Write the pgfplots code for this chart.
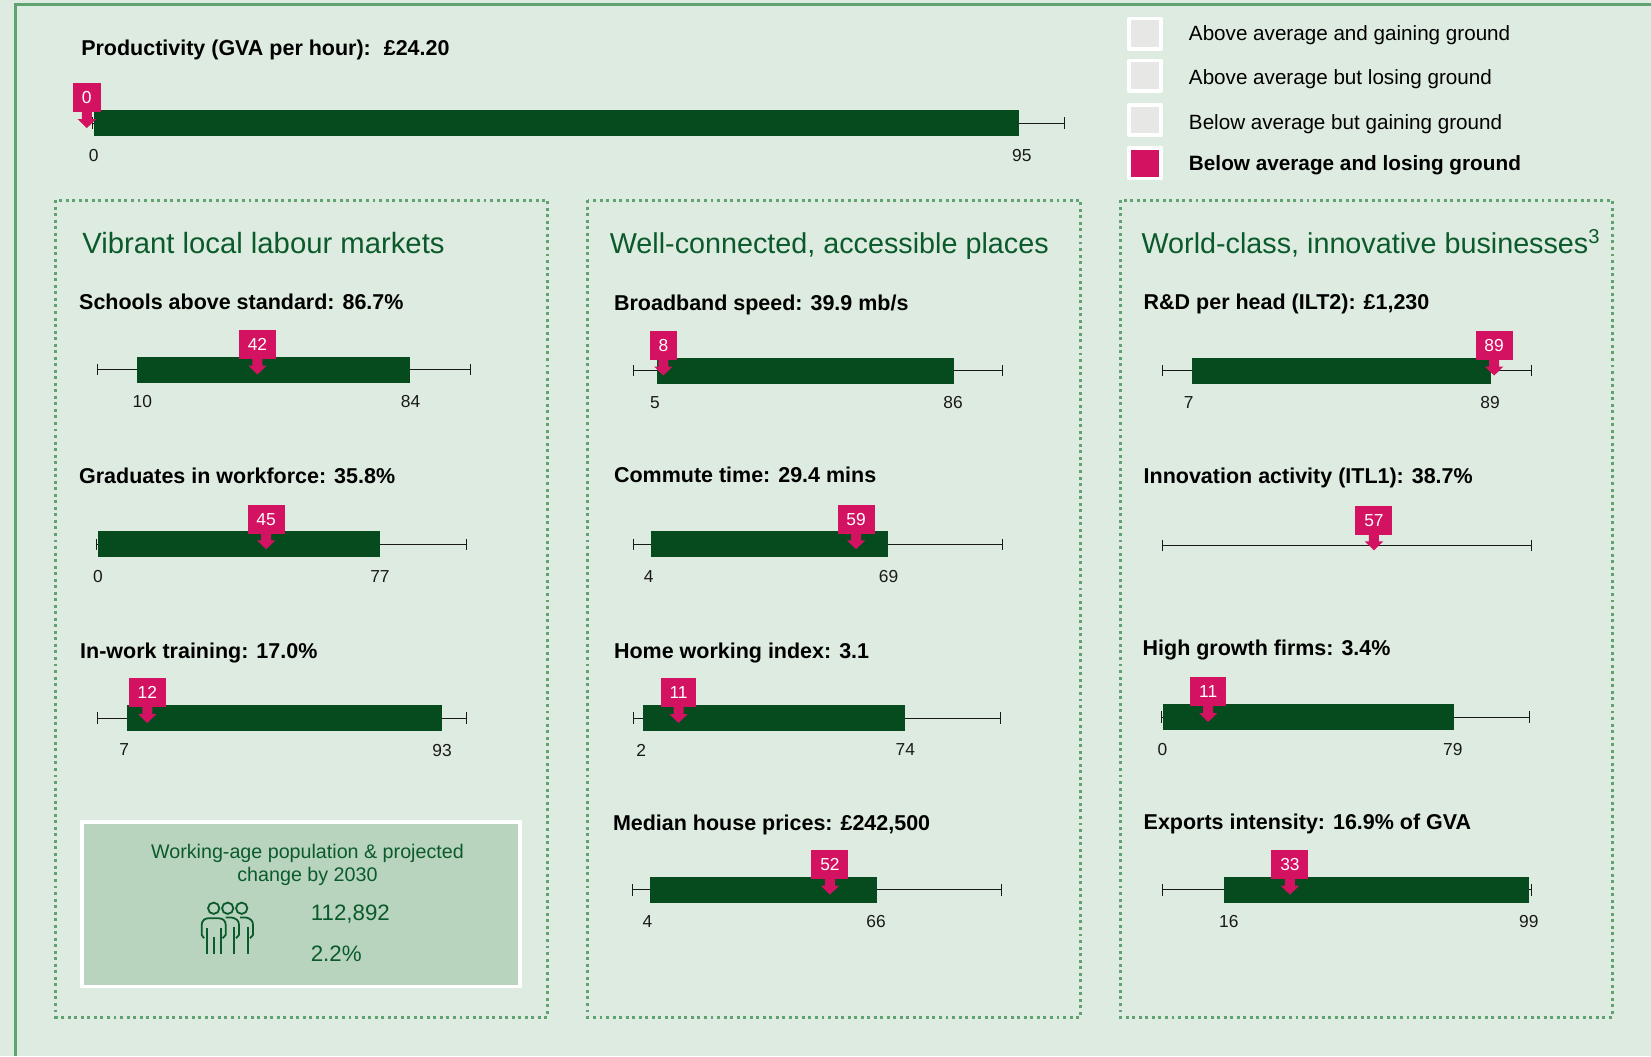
\documentclass[border=0pt]{standalone}
\usepackage{pgfplots}
\pgfplotsset{compat=1.18}
\usepackage{fontspec}
\setmainfont{Liberation Sans}
\definecolor{bgc}{HTML}{DEEBE0}
\definecolor{framec}{HTML}{5FA372}
\definecolor{barc}{HTML}{054B1E}
\definecolor{greenc}{HTML}{0B5A2C}
\definecolor{pinkc}{HTML}{D31261}
\definecolor{popc}{HTML}{B8D4BE}
\definecolor{legc}{HTML}{E7E7E5}

\pgfdeclareplotmark{pin}{%
  \pgfpathmoveto{\pgfpoint{-4.75pt}{10.5pt}}
  \pgfpathlineto{\pgfpoint{4.75pt}{10.5pt}}
  \pgfpathlineto{\pgfpoint{4.75pt}{3.8pt}}
  \pgfpathlineto{\pgfpoint{8.7pt}{3.8pt}}
  \pgfpathlineto{\pgfpoint{0pt}{-4.7pt}}
  \pgfpathlineto{\pgfpoint{-8.7pt}{3.8pt}}
  \pgfpathlineto{\pgfpoint{-4.75pt}{3.8pt}}
  \pgfpathclose
  \pgfusepathqfill}

\pgfplotsset{
  strip/.style={
    scale only axis, width=#1, height=24.7pt,
    anchor=west, xmin=0, xmax=100, ymin=-1, ymax=1, clip=false,
    axis x line=bottom, axis y line=none,
    x axis line style={draw=none,-},
    major tick length=0pt, tick style={draw=none},
    xticklabel style={font=\fontsize{16.5}{18}\selectfont, anchor=north, yshift=-12pt, inner sep=0pt, text=black!90},
  },
  pinplot/.style={
    color=pinkc, only marks, mark=pin,
    point meta=explicit symbolic,
    nodes near coords,
    nodes near coords align={anchor=south},
    every node near coord/.append style={
      anchor=south, yshift=10pt, fill=pinkc, text=white,
      inner xsep=8.4pt, inner ysep=0pt, minimum height=27.5pt,
      font=\fontsize{16.5}{18}\selectfont},
  },
}

% x0 x1 y bar-low tick-low label-low bar-high tick-high label-high, then marker x and label
\def\strip#1#2#3#4/#5/#6;#7/#8/#9;{\stripb{#1}{#2}{#3}{#4}{#5}{#6}{#7}{#8}{#9}}
\newcommand{\stripb}[9]{%
  \def\argi{#1}\def\argii{#2}\def\argiii{#3}\def\argiv{#4}\def\argv{#5}%
  \def\argvi{#6}\def\argvii{#7}\def\argviii{#8}\def\argix{#9}\stripc}
\newcommand{\stripc}[2]{%
  \edef\next{\noexpand\begin{axis}[strip={\the\dimexpr \argii pt-\argi pt\relax}, at={(\argi pt,{(1003-\argiii)*1pt})},
      xtick={\argv,\argviii}, xticklabels={\argvi,\argix}]}\next
    \addplot[black!90, line width=0.9pt, mark=|, mark size=5.5pt] coordinates {(0,0) (100,0)};
    \edef\next{\noexpand\addplot[fill=barc, draw=none] coordinates {(\argiv,-1) (\argvii,-1) (\argvii,1) (\argiv,1)} --cycle;}\next
    \addplot[pinplot] coordinates {(#1,0) [#2]};
  \end{axis}}
% no bar, no bar labels
\newcommand{\stripnobar}[5]{%
  \begin{axis}[strip={\the\dimexpr #2pt-#1pt\relax}, at={(#1pt,{(1003-#3)*1pt})},
      xtick=\empty]
    \addplot[black!90, line width=0.9pt, mark=|, mark size=5.5pt] coordinates {(0,0) (100,0)};
    \addplot[pinplot] coordinates {(#4,0) [#5]};
  \end{axis}}

\newcommand{\lab}[3]{\node[anchor=mid west, inner sep=0pt, text=black] at (#1,1003-#2-5) {\fontsize{20.4}{24}\selectfont\bfseries #3};}
\newcommand{\head}[4][27.3]{\node[anchor=mid west, inner sep=0pt, text=greenc] at (#2,1003-#3-7) {\fontsize{#1}{32}\selectfont #4};}
\newcommand{\leg}[2]{%
  \draw[white, line width=3.5pt, fill=#2, line join=round] (1072.5,1003-#1+14.5) rectangle (1102.5,1003-#1-14.5);}

\begin{document}
\begin{tikzpicture}[x=1pt,y=1pt]
  \path[use as bounding box, fill=bgc] (0,0) rectangle (1568,1003);
  % outer frame, open at right and bottom
  \draw[framec, line width=2.8pt] (14.5,0) -- (14.5,999) -- (1568,999);
  % three dotted panels
  \foreach \a/\b in {53/520, 558/1026, 1064/1531}
    \draw[framec, line width=2.8pt, dash pattern=on 2.8pt off 3.4pt] (\a,1003-190) rectangle (\b,1003-966);

  % legend
  \leg{32}{legc}
  \leg{72}{legc}
  \leg{114}{legc}
  \leg{155}{pinkc}
  \foreach \yy/\tt in {36/Above average and gaining ground, 78/Above average but losing ground, 120/Below average but gaining ground}
    \node[anchor=mid west, inner sep=0pt, text=black] at (1129,1003-\yy) {\fontsize{19.6}{24}\selectfont \tt};
  \node[anchor=mid west, inner sep=0pt, text=black] at (1129,1003-159.5) {\fontsize{19.7}{24}\selectfont\bfseries Below average and losing ground};

  % text
  \lab{77}{45}{Productivity (GVA per hour):\ \ \hspace{1pt}£24.20}
  \head[27.8]{78}{231}{Vibrant local labour markets}
  \head{579}{231}{Well-connected, accessible places}
  \head{1084}{231}{World-class, innovative businesses\textsuperscript{3}}
  \lab{75}{286}{Schools above standard: 86.7\%}
  \lab{75}{452}{Graduates in workforce: 35.8\%}
  \lab{76}{618}{In-work training: 17.0\%}
  \lab{583}{287}{Broadband speed: 39.9 mb/s}
  \lab{583}{451}{Commute time: 29.4 mins}
  \lab{583}{618}{Home working index: 3.1}
  \lab{582}{781}{Median house prices: £242,500}
  \lab{1086}{286}{R\&D per head (ILT2): £1,230}
  \lab{1086}{452}{Innovation activity (ITL1): 38.7\%}
  \lab{1085}{615}{High growth firms: 3.4\%}
  \lab{1086}{780}{Exports intensity: 16.9\% of GVA}

  % population box
  \draw[white, line width=3.6pt, fill=popc] (78,1003-781) rectangle (494,1003-937);
  \node[align=center, inner sep=0pt, text=greenc, font=\fontsize{18.7}{22}\selectfont] at (292,1003-821.5)
    {Working-age population \& projected\\ change by 2030};
  \node[anchor=mid west, inner sep=0pt, text=greenc] at (295,1003-872) {\fontsize{21.2}{26}\selectfont 112,892};
  \node[anchor=mid west, inner sep=0pt, text=greenc] at (295,1003-910.5) {\fontsize{21.2}{26}\selectfont 2.2\%};
  % people icon
  \begin{scope}[shift={(47.5,252.8)}, x=0.3166pt, y=-0.3166pt, greenc, line width=1.7pt, line cap=butt]
    \foreach \hx in {491,533,575} \draw (\hx,355) circle (17);
    \draw (462,445) -- (455,435) -- (455,405) .. controls (455,392) and (465,385) .. (475,385) -- (505,385) .. controls (518,385) and (527,392) .. (527,405) -- (527,435) -- (518,445);
    \draw (527,383) -- (545,383) .. controls (558,385) and (567,392) .. (567,405) -- (567,435) -- (558,445);
    \draw (570,383) -- (588,383) .. controls (600,385) and (609,392) .. (609,405) -- (609,435) -- (600,445);
    \draw (470,415) -- (470,493) (491,440) -- (491,493) (513,415) -- (513,493) (551,410) -- (551,493) (593,410) -- (593,493);
  \end{scope}

  % strips: whisker ends, y, bar/tick/label low and high, marker position, marker label
  \strip{88}{1011}{117}0.1/0.1/0;95.3/95.6/95;{-0.6}{0}
  \strip{93}{447}{351}10.5/11.9/10;83.6/83.9/84;{42.8}{42}
  \strip{92}{443}{517}0.3/0.3/0;76.6/76.6/77;{45.8}{45}
  \strip{93}{443}{682}8/7.1/7;93.4/93.4/93;{13.4}{12}
  \strip{602}{952}{352}6.3/5.7/5;86.9/86.6/86;{8}{8}
  \strip{602}{952}{517}4.6/4/4;68.9/69.1/69;{60.3}{59}
  \strip{602}{950}{682}2.6/2/2;74.1/74.1/74;{12.2}{11}
  \strip{601}{951}{845}4.6/4/4;66.3/66/66;{53.5}{52}
  \strip{1104}{1454}{352}8/7.1/7;89.1/88.9/89;{90}{89}
  \stripnobar{1104}{1454}{518}{57.4}{57}
  \strip{1103}{1453}{681}0.3/0.3/0;79.4/79.1/79;{12.7}{11}
  \strip{1104}{1454}{845}16.6/18/16;99.4/99.4/99;{34.6}{33}
\end{tikzpicture}
\end{document}
